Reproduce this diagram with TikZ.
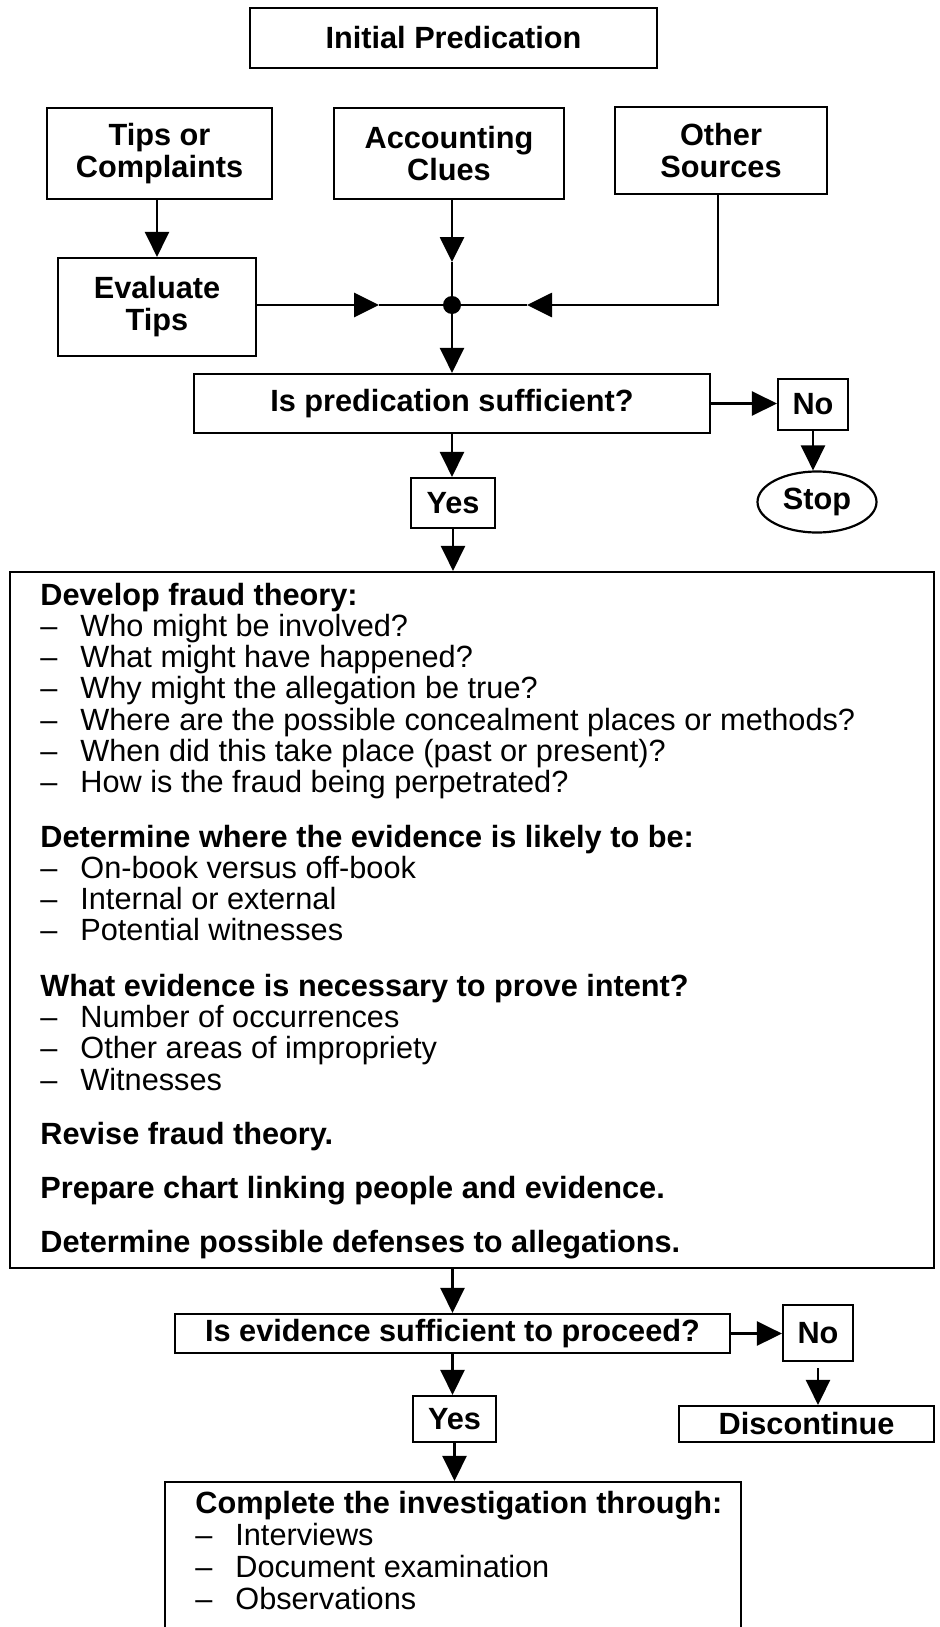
\documentclass[tikz,border=0pt]{standalone}
\usepackage{fontspec}
\setmainfont{Liberation Sans}
\usetikzlibrary{arrows.meta,shapes.geometric}

\newcommand{\fsz}{\fontsize{15.35}{16}\selectfont}
\newcommand{\itm}[1]{\makebox[20pt][l]{--}#1}

\begin{document}
\begin{tikzpicture}[x=0.5pt, y=-0.5pt, >={Triangle[length=12.5pt,width=12pt]},
  line width=1.4pt,
  box/.style={draw, line width=1.1pt, inner sep=0pt, font=\fsz\bfseries, align=center},
  txt/.style={anchor=base west, inner sep=0pt, font=\fsz}]
  \useasboundingbox (0,0) rectangle (939,1627);

  % sources of the predication
  \node[box, minimum width=203.5pt, minimum height=30pt] (init) at (453.5,38) {Initial Predication};
  \node[box, minimum width=112.5pt, minimum height=45.5pt] (tips) at (159.5,153.5) {Tips or\\Complaints};
  \node[box, minimum width=115pt, minimum height=45.5pt] (acct) at (449,153.5) {Accounting\\Clues};
  \node[box, minimum width=106pt, minimum height=43.5pt] (other) at (721,150.5) {Other\\Sources};
  \node[box, minimum width=99pt, minimum height=49pt] (eval) at (157,307) {Evaluate\\Tips};

  % first decision
  \node[box, minimum width=258pt, minimum height=29.5pt] (pred) at (452,403.5) {Is predication sufficient?};
  \node[box, minimum width=35pt, minimum height=25.5pt] (no1) at (813,404.5) {No};
  \node[box, ellipse, minimum width=59.5pt, minimum height=30.5pt] (stop) at (817,502) {Stop};
  \node[box, minimum width=42pt, minimum height=25pt] (yes1) at (453,503) {Yes};

  % fraud theory
  \node[box, minimum width=462pt, minimum height=348pt] (theory) at (472,920) {};
  \foreach \y/\lbl [count=\i] in {
      605/{\textbf{Develop fraud theory:}},
      636/{\itm{Who might be involved?}},
      667/{\itm{What might have happened?}},
      698/{\itm{Why might the allegation be true?}},
      730/{\itm{Where are the possible concealment places or methods?}},
      761/{\itm{When did this take place (past or present)?}},
      792/{\itm{How is the fraud being perpetrated?}},
      847/{\textbf{Determine where the evidence is likely to be:}},
      878/{\itm{On-book versus off-book}},
      909/{\itm{Internal or external}},
      940/{\itm{Potential witnesses}},
      996/{\textbf{What evidence is necessary to prove intent?}},
      1027/{\itm{Number of occurrences}},
      1058/{\itm{Other areas of impropriety}},
      1090/{\itm{Witnesses}},
      1144/{\textbf{Revise fraud theory.}},
      1198/{\textbf{Prepare chart linking people and evidence.}},
      1252/{\textbf{Determine possible defenses to allegations.}}}
    \node[txt] (th\i) at (39,\y) {\lbl};

  % second decision
  \node[box, minimum width=277.5pt, minimum height=19.5pt] (ev) at (452.5,1333.5) {Is evidence sufficient to proceed?};
  \node[box, minimum width=35pt, minimum height=28pt] (no2) at (818,1333) {No};
  \node[box, minimum width=127.5pt, minimum height=18pt] (disc) at (806.5,1424) {Discontinue};
  \node[box, minimum width=41.5pt, minimum height=23pt] (yes2) at (454.5,1419) {Yes};

  % investigation
  \node[box, minimum width=288pt, minimum height=99pt] (cmp) at (453,1581) {};
  \foreach \y/\lbl [count=\i] in {
      1513/{\textbf{Complete the investigation through:}},
      1545/{\itm{Interviews}},
      1577/{\itm{Document examination}},
      1609/{\itm{Observations}}}
    \node[txt] (ci\i) at (194,\y) {\lbl};

  % junction of the three sources
  \coordinate (j) at (452,305);
  \coordinate (ja) at (452,262);
  \coordinate (jw) at (379,305);
  \coordinate (je) at (527,305);
  \coordinate (oc) at (718,305);
  \draw[->] (eval.north |- tips.south) -- (eval.north);
  \draw[->] (acct.south -| j) -- (ja);
  \draw (ja) -- (j);
  \draw[->] (eval.east |- j) -- (jw);
  \draw (jw) -- (j);
  \draw[->] (other.south -| oc) -- (oc) -- (je);
  \draw (je) -- (j);
  \fill (j) circle (4.5pt);
  \draw[->] (j) -- (j |- pred.north);

  % connectors
  \draw[->] (pred.east) -- (pred.east -| no1.west);
  \draw[->] (no1.south) -- (no1.south |- stop.north);
  \draw[->] (pred.south) -- (pred.south |- yes1.north);
  \draw[->] (yes1.south) -- (yes1.south |- theory.north);
  \draw[->] (ev.north |- theory.south) -- (ev.north);
  \draw[->] (ev.east) -- (ev.east -| no2.west);
  \draw[->, shorten <=3pt] (no2.south) -- (no2.south |- disc.north);
  \draw[->] (ev.south) -- (ev.south |- yes2.north);
  \draw[->] (yes2.south) -- (yes2.south |- cmp.north);
\end{tikzpicture}
\end{document}
